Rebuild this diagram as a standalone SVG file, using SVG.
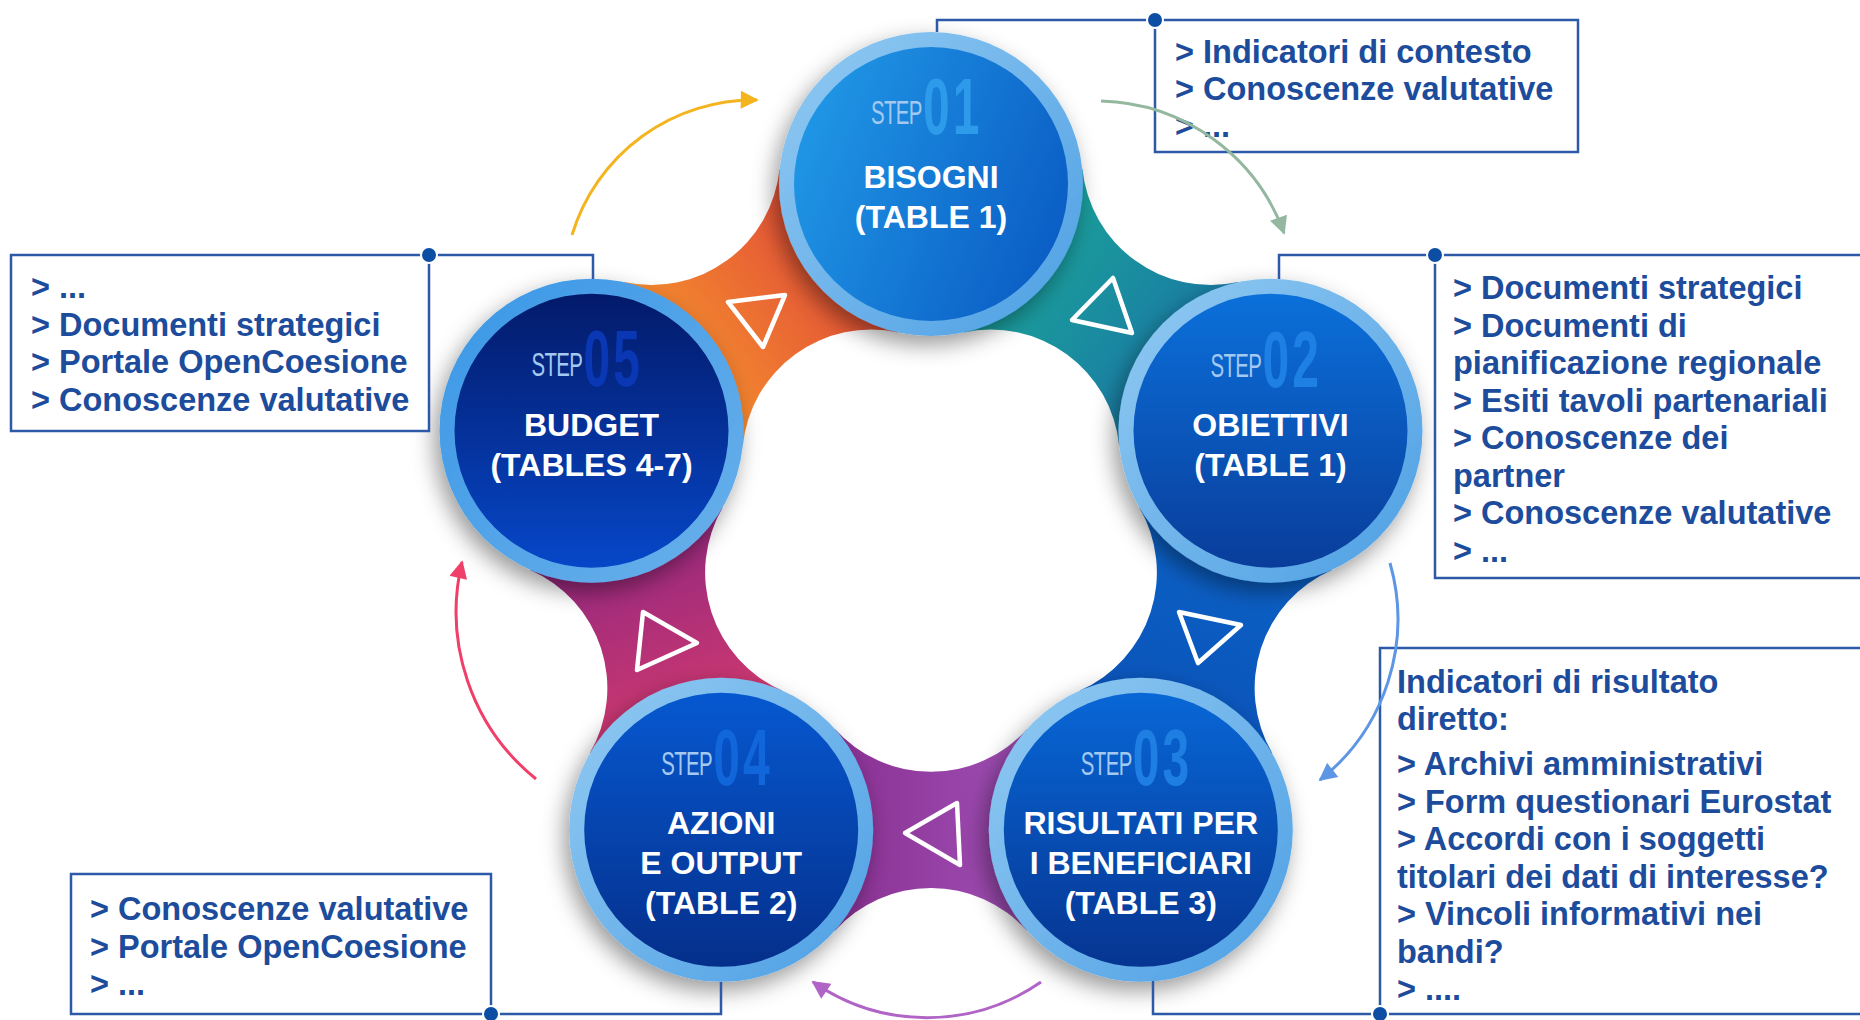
<svg xmlns="http://www.w3.org/2000/svg" width="1860" height="1020" viewBox="0 0 1860 1020">
<defs>
<style>
.box{fill:#fff;stroke:#2c5aa6;stroke-width:2.5}
.bt{font-family:"Liberation Sans",Arial,sans-serif;font-weight:700;font-size:32.5px;fill:#1c4c9b}
.lead{fill:none;stroke:#2c5aa6;stroke-width:2.5}
.dot{fill:#0c4ea3;stroke:#fff;stroke-width:2}
.lbl{font-family:"Liberation Sans",Arial,sans-serif;font-weight:700;font-size:32px;fill:#fff;text-anchor:middle}
.sn{font-family:"Liberation Sans",sans-serif}
.step{font-size:34px;fill:#a3c9f1;letter-spacing:-1px}
.num{font-weight:700;font-size:80px;letter-spacing:5px}
.tri{fill:none;stroke:#fff;stroke-width:4.5;stroke-linejoin:round}
.arc{fill:none;stroke-width:3}
</style>
<filter id="sh" x="-30%" y="-30%" width="160%" height="160%">
<feDropShadow dx="-5" dy="9" stdDeviation="11" flood-color="#000" flood-opacity="0.4"/>
</filter>
<linearGradient id="ring" x1="0" y1="0" x2="1" y2="1"><stop offset="0" stop-color="#92caf2"/><stop offset="1" stop-color="#4d9fe4"/></linearGradient>
<linearGradient id="ring5" x1="0" y1="0" x2="1" y2="1"><stop offset="0" stop-color="#3a97e6"/><stop offset="1" stop-color="#6ab0ea"/></linearGradient>
<linearGradient id="n1" x1="0" y1="0.3" x2="1" y2="0.7"><stop offset="0" stop-color="#2097e6"/><stop offset="1" stop-color="#0a5cc4"/></linearGradient>
<linearGradient id="n2" x1="0" y1="0" x2="0" y2="1"><stop offset="0" stop-color="#0b70da"/><stop offset="1" stop-color="#093d9b"/></linearGradient>
<linearGradient id="n3" x1="0" y1="0" x2="0" y2="1"><stop offset="0" stop-color="#0867d6"/><stop offset="1" stop-color="#063592"/></linearGradient>
<linearGradient id="n4" x1="0" y1="0" x2="0" y2="1"><stop offset="0" stop-color="#0658d0"/><stop offset="1" stop-color="#052f8b"/></linearGradient>
<linearGradient id="n5" x1="0" y1="0" x2="0" y2="1"><stop offset="0" stop-color="#031a6a"/><stop offset="1" stop-color="#0647c8"/></linearGradient>
<linearGradient id="gT" gradientUnits="userSpaceOnUse" x1="0" y1="-150" x2="0" y2="150"><stop offset="0" stop-color="#1aab98"/><stop offset="1" stop-color="#1a70a6"/></linearGradient>
<linearGradient id="gB" gradientUnits="userSpaceOnUse" x1="0" y1="-150" x2="0" y2="150"><stop offset="0" stop-color="#0c65c9"/><stop offset="1" stop-color="#0a50b6"/></linearGradient>
<linearGradient id="gP" gradientUnits="userSpaceOnUse" x1="0" y1="-150" x2="0" y2="150"><stop offset="0" stop-color="#a457bd"/><stop offset="1" stop-color="#85288a"/></linearGradient>
<linearGradient id="gM" gradientUnits="userSpaceOnUse" x1="0" y1="-150" x2="0" y2="150"><stop offset="0" stop-color="#de3d6b"/><stop offset="1" stop-color="#842383"/></linearGradient>
<linearGradient id="gO" gradientUnits="userSpaceOnUse" x1="0" y1="-150" x2="0" y2="150"><stop offset="0" stop-color="#f89b2b"/><stop offset="1" stop-color="#de3e3a"/></linearGradient>
<marker id="mY" viewBox="0 0 10 10" refX="9" refY="5" markerWidth="20" markerHeight="18" markerUnits="userSpaceOnUse" orient="auto"><path d="M0,0 L10,5 L0,10 z" fill="#f4b41f"/></marker>
<marker id="mG" viewBox="0 0 10 10" refX="9" refY="5" markerWidth="20" markerHeight="18" markerUnits="userSpaceOnUse" orient="auto"><path d="M0,0 L10,5 L0,10 z" fill="#93b79f"/></marker>
<marker id="mB" viewBox="0 0 10 10" refX="9" refY="5" markerWidth="20" markerHeight="18" markerUnits="userSpaceOnUse" orient="auto"><path d="M0,0 L10,5 L0,10 z" fill="#5e96e6"/></marker>
<marker id="mP" viewBox="0 0 10 10" refX="9" refY="5" markerWidth="20" markerHeight="18" markerUnits="userSpaceOnUse" orient="auto"><path d="M0,0 L10,5 L0,10 z" fill="#b064c6"/></marker>
<marker id="mR" viewBox="0 0 10 10" refX="9" refY="5" markerWidth="20" markerHeight="18" markerUnits="userSpaceOnUse" orient="auto"><path d="M0,0 L10,5 L0,10 z" fill="#f0406a"/></marker>
</defs>
<rect width="1860" height="1020" fill="#fff"/>

<g id="ribbons">
<path transform="translate(931 541) rotate(-54)" fill="url(#gT)" d="M187.7,-96.3 A129,129 0 0 1 187.7,96.3 L390.1,96.3 A129,129 0 0 1 390.1,-96.3 Z"/>
<path transform="translate(931 541) rotate(18)" fill="url(#gB)" d="M187.7,-96.3 A129,129 0 0 1 187.7,96.3 L390.1,96.3 A129,129 0 0 1 390.1,-96.3 Z"/>
<path transform="translate(931 541) rotate(90)" fill="url(#gP)" d="M187.7,-96.3 A129,129 0 0 1 187.7,96.3 L390.1,96.3 A129,129 0 0 1 390.1,-96.3 Z"/>
<path transform="translate(931 541) rotate(162)" fill="url(#gM)" d="M187.7,-96.3 A129,129 0 0 1 187.7,96.3 L390.1,96.3 A129,129 0 0 1 390.1,-96.3 Z"/>
<path transform="translate(931 541) rotate(234)" fill="url(#gO)" d="M187.7,-96.3 A129,129 0 0 1 187.7,96.3 L390.1,96.3 A129,129 0 0 1 390.1,-96.3 Z"/>
<polygon class="tri" points="728,302 785,295 763,347"/>
<polygon class="tri" points="1072,320 1113,278 1132,333"/>
<polygon class="tri" points="1179,612 1241,625 1198,663"/>
<polygon class="tri" points="905,833 957,803 960,865"/>
<polygon class="tri" points="643,612 697,643 637,670"/>
</g>

<g id="step01">
<circle cx="931" cy="184" r="152" fill="url(#ring)" filter="url(#sh)"/>
<circle cx="931" cy="184" r="137" fill="url(#n1)"/>
<text class="sn" transform="translate(871 124) scale(0.6 1)"><tspan class="step">STEP</tspan><tspan class="num" dx="2" dy="10" fill="#2d9aea">01</tspan></text>
<text class="lbl"><tspan x="931" y="188">BISOGNI</tspan><tspan x="931" y="228">(TABLE 1)</tspan></text>
</g>
<g id="step02">
<circle cx="1270.5" cy="430.7" r="152" fill="url(#ring)" filter="url(#sh)"/>
<circle cx="1270.5" cy="430.7" r="137" fill="url(#n2)"/>
<text class="sn" transform="translate(1210.5 377) scale(0.6 1)"><tspan class="step">STEP</tspan><tspan class="num" dx="2" dy="10" fill="#1f80e4">02</tspan></text>
<text class="lbl"><tspan x="1270.5" y="436">OBIETTIVI</tspan><tspan x="1270.5" y="476">(TABLE 1)</tspan></text>
</g>
<g id="step03">
<circle cx="1140.8" cy="829.8" r="152" fill="url(#ring)" filter="url(#sh)"/>
<circle cx="1140.8" cy="829.8" r="137" fill="url(#n3)"/>
<text class="sn" transform="translate(1080.8 775) scale(0.6 1)"><tspan class="step">STEP</tspan><tspan class="num" dx="2" dy="10" fill="#1f7ee2">03</tspan></text>
<text class="lbl"><tspan x="1140.8" y="834">RISULTATI PER</tspan><tspan x="1140.8" y="874">I BENEFICIARI</tspan><tspan x="1140.8" y="914">(TABLE 3)</tspan></text>
</g>
<g id="step04">
<circle cx="721.2" cy="829.8" r="152" fill="url(#ring)" filter="url(#sh)"/>
<circle cx="721.2" cy="829.8" r="137" fill="url(#n4)"/>
<text class="sn" transform="translate(661.2 775) scale(0.6 1)"><tspan class="step">STEP</tspan><tspan class="num" dx="2" dy="10" fill="#1166da">04</tspan></text>
<text class="lbl"><tspan x="721.2" y="834">AZIONI</tspan><tspan x="721.2" y="874">E OUTPUT</tspan><tspan x="721.2" y="914">(TABLE 2)</tspan></text>
</g>
<g id="step05">
<circle cx="591.5" cy="430.7" r="152" fill="url(#ring5)" filter="url(#sh)"/>
<circle cx="591.5" cy="430.7" r="137" fill="url(#n5)"/>
<text class="sn" transform="translate(531.5 376) scale(0.6 1)"><tspan class="step" fill="#8eaee2">STEP</tspan><tspan class="num" dx="2" dy="10" fill="#0a38b4">05</tspan></text>
<text class="lbl"><tspan x="591.5" y="436">BUDGET</tspan><tspan x="591.5" y="476">(TABLES 4-7)</tspan></text>
</g>

<g id="box1">
<rect class="box" x="1155" y="20" width="423" height="132"/>
<text class="bt"><tspan x="1175" y="63">&gt; Indicatori di contesto</tspan><tspan x="1175" y="100">&gt; Conoscenze valutative</tspan><tspan x="1175" y="137">&gt; ...</tspan></text>
</g>
<g id="box2">
<rect class="box" x="1435" y="255" width="440" height="323"/>
<text class="bt"><tspan x="1453" y="299">&gt; Documenti strategici</tspan><tspan x="1453" y="336.5">&gt; Documenti di</tspan><tspan x="1453" y="374">pianificazione regionale</tspan><tspan x="1453" y="411.5">&gt; Esiti tavoli partenariali</tspan><tspan x="1453" y="449">&gt; Conoscenze dei</tspan><tspan x="1453" y="486.5">partner</tspan><tspan x="1453" y="524">&gt; Conoscenze valutative</tspan><tspan x="1453" y="561.5">&gt; ...</tspan></text>
</g>
<g id="box3">
<rect class="box" x="1380" y="648" width="495" height="366"/>
<text class="bt"><tspan x="1397" y="693">Indicatori di risultato</tspan><tspan x="1397" y="730">diretto:</tspan><tspan x="1397" y="775">&gt; Archivi amministrativi</tspan><tspan x="1397" y="812.5">&gt; Form questionari Eurostat</tspan><tspan x="1397" y="850">&gt; Accordi con i soggetti</tspan><tspan x="1397" y="887.5">titolari dei dati di interesse?</tspan><tspan x="1397" y="925">&gt; Vincoli informativi nei</tspan><tspan x="1397" y="962.5">bandi?</tspan><tspan x="1397" y="1000">&gt; ....</tspan></text>
</g>
<g id="box4">
<rect class="box" x="71" y="874" width="420" height="140"/>
<text class="bt"><tspan x="90" y="920">&gt; Conoscenze valutative</tspan><tspan x="90" y="957.5">&gt; Portale OpenCoesione</tspan><tspan x="90" y="995">&gt; ...</tspan></text>
</g>
<g id="box5">
<rect class="box" x="11" y="255" width="418" height="176"/>
<text class="bt"><tspan x="31" y="298">&gt; ...</tspan><tspan x="31" y="335.5">&gt; Documenti strategici</tspan><tspan x="31" y="373">&gt; Portale OpenCoesione</tspan><tspan x="31" y="410.5">&gt; Conoscenze valutative</tspan></text>
</g>

<g id="connectors">
<path class="lead" d="M937,32 V20 H1155"/>
<path class="lead" d="M1279,279 V255 H1435"/>
<path class="lead" d="M1153,981 V1014 H1380"/>
<path class="lead" d="M721,982 V1014 H491"/>
<path class="lead" d="M593,279 V255 H429"/>
<circle class="dot" cx="1155" cy="20" r="8"/>
<circle class="dot" cx="1435" cy="255" r="8"/>
<circle class="dot" cx="1380" cy="1014" r="8"/>
<circle class="dot" cx="491" cy="1014" r="8"/>
<circle class="dot" cx="429" cy="255" r="8"/>
<path class="arc" stroke="#f4b41f" marker-end="url(#mY)" d="M572,235 A190,190 0 0 1 757,100"/>
<path class="arc" stroke="#93b79f" marker-end="url(#mG)" d="M1101,101 A200,200 0 0 1 1284,233"/>
<path class="arc" stroke="#5e96e6" stroke-width="2.5" marker-end="url(#mB)" d="M1390,563 A205,205 0 0 1 1320,780"/>
<path class="arc" stroke="#b064c6" marker-end="url(#mP)" d="M1041,982 A200,200 0 0 1 813,982"/>
<path class="arc" stroke="#f0406a" marker-end="url(#mR)" d="M536,779 A215,215 0 0 1 462,562"/>
</g>
</svg>
